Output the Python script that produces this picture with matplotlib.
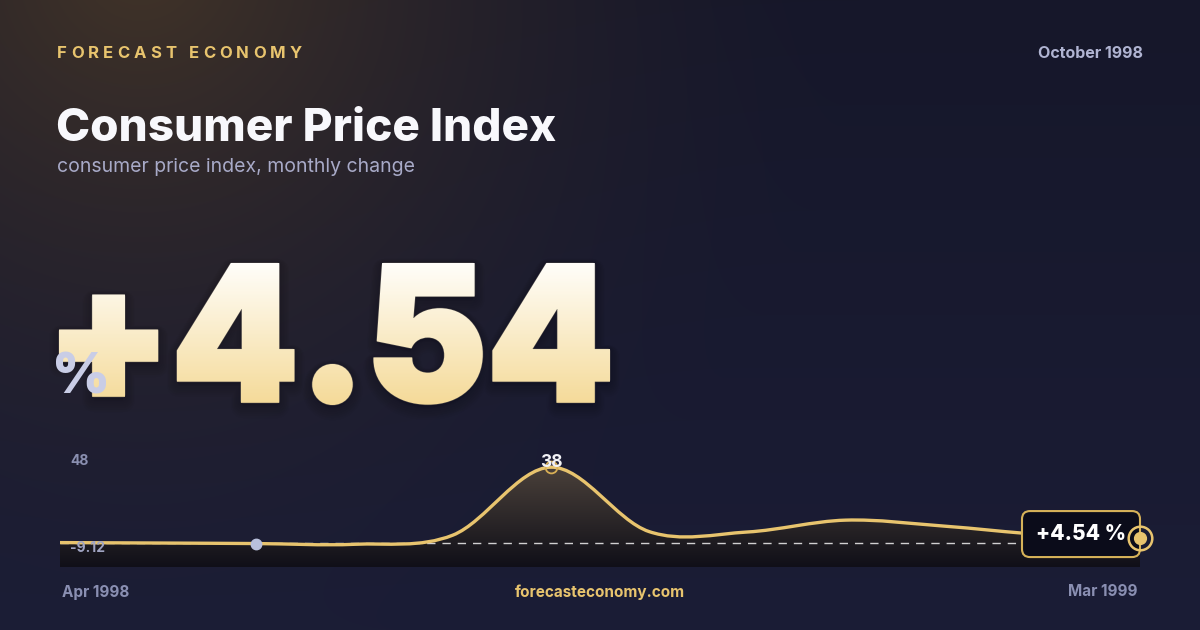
import numpy as np
import matplotlib
matplotlib.use("Agg")
from matplotlib import pyplot as plt
from matplotlib.path import Path
from matplotlib.patches import PathPatch, FancyBboxPatch, Rectangle
from matplotlib.textpath import TextPath, TextToPath
from matplotlib.font_manager import FontProperties
from matplotlib.transforms import Affine2D

# data
months = ["Apr 1998", "May 1998", "Jun 1998", "Jul 1998", "Aug 1998", "Sep 1998",
          "Oct 1998", "Nov 1998", "Dec 1998", "Jan 1999", "Feb 1999", "Mar 1999"]
cpi = [2.4, 2.2, 1.95, 1.6, 5.9, 38.0, 7.6, 7.4, 13.0, 10.2, 6.2, 4.54]
y_min, y_max = -9.12, 48
ref_value = 2.2
marked_idx = 2
headline = "+4.54"
report_month = "October 1998"

GOLD = "#e8c46e"
W, H = 1200, 630

fig = plt.figure(figsize=(12, 6.3), dpi=100)
bg = fig.add_axes([0, 0, 1, 1])
bg.axis("off")

# background: navy with warm glow top-left
yy, xx = np.mgrid[0:H, 0:W]
base = np.zeros((H, W, 3))
t = yy / H
base[..., 0] = 22 + 5 * t
base[..., 1] = 23 + 6 * t
base[..., 2] = 42 + 12 * t
d = np.hypot(xx - 140, yy + 40)
w = np.clip(1 - d / 720, 0, 1) ** 1.7
warm = np.array([66, 52, 40])
img = base * (1 - w[..., None]) + warm * w[..., None]
bg.imshow(img / 255, extent=(0, W, 0, H), origin="upper", zorder=0, aspect="auto")
bg.set_xlim(0, W)
bg.set_ylim(0, H)

def fp(weight, size):
    return FontProperties(family="Inter", weight=weight, size=size)

# header
label = "FORECAST ECONOMY"
prop = fp(700, 12)
t2p = TextToPath()
widths = [t2p.get_text_width_height_descent(c, prop, ismath=False)[0] * 100 / 72 for c in label]
gap = (245 - sum(widths)) / (len(label) - 1)
x = 57
for c, cw in zip(label, widths):
    bg.text(x, H - 53, c, fontproperties=prop, color=GOLD, va="center", ha="left")
    x += cw + gap
bg.text(1143, H - 54, report_month, fontproperties=fp(700, 11.5), color="#b0b4d2", ha="right", va="center")
bg.text(56, H - 141, "Consumer Price Index", fontproperties=fp(800, 33), color="#f8f8fc", ha="left", va="baseline")
bg.text(57, H - 167, "consumer price index, monthly change", fontproperties=fp(400, 14),
        color="#a8aac8", ha="left", va="center")

# big number: heavy glyphs with vertical gradient, drawn in thin bands
stroke = 4.0  # px
tp = TextPath((0, 0), headline, size=100, prop=FontProperties(family="Inter", weight=900))
bb = tp.get_extents()
s = stroke / 2
x0, x1, y0, y1 = 59 + s, 610 - s, H - 405 + s, H - 263 - s
tr = Affine2D().translate(-bb.x0, -bb.y0).scale((x1 - x0) / bb.width, (y1 - y0) / bb.height).translate(x0, y0)
num_path = tr.transform_path(tp)
# soft drop shadow
for k in range(2, 16, 2):
    sh = Affine2D().translate(0, -k * 0.4).transform_path(num_path)
    bg.add_patch(PathPatch(sh, facecolor="black", edgecolor="black", lw=stroke * 0.72 + k * 1.0,
                           joinstyle="round", alpha=0.022, zorder=1))
bg.add_patch(PathPatch(num_path, facecolor="none", edgecolor="#6a645c", lw=stroke * 0.72 + 0.8,
                       joinstyle="round", alpha=0.55, zorder=1.5))
top_c = np.array([255, 254, 251]) / 255
bot_c = np.array([244, 217, 150]) / 255
yb0, yb1 = int(y0 - 4), int(y1 + 4)
for yb in range(yb0, yb1):
    f = (yb1 - (yb + 0.5)) / (yb1 - yb0)
    col = top_c * (1 - f) + bot_c * f
    band = PathPatch(num_path, facecolor=col, edgecolor=col, lw=stroke * 0.72, zorder=2)
    bg.add_patch(band)
    band.set_clip_path(Rectangle((0, yb), W, 1.02, transform=bg.transData))
bg.text(52, H - 393, "%", fontproperties=fp(900, 40), color="#c9cde6", ha="left", va="baseline", zorder=3)

# footer
bg.text(62, H - 592, months[0], fontproperties=fp(700, 11), color="#8a8fb2", ha="left", va="center")
bg.text(600, H - 592, "forecasteconomy.com", fontproperties=fp(700, 11), color=GOLD, ha="center", va="center")
bg.text(1138, H - 592, months[-1], fontproperties=fp(700, 11), color="#8a8fb2", ha="right", va="center")

# chart
ax = fig.add_axes([60 / W, 63 / H, 1080 / W, 121 / H], zorder=2)
ax.patch.set_alpha(0)
ax.axis("off")

# smooth catmull-rom curve as bezier path
pts = np.column_stack([np.arange(len(cpi)), cpi]).astype(float)
ext = np.vstack([pts[0], pts, pts[-1]])
verts = [tuple(pts[0])]
codes = [Path.MOVETO]
for i in range(len(pts) - 1):
    p0, p1, p2, p3 = ext[i], ext[i + 1], ext[i + 2], ext[i + 3]
    c1 = p1 + (p2 - p0) / 6
    c2 = p2 - (p3 - p1) / 6
    verts += [tuple(c1), tuple(c2), tuple(p2)]
    codes += [Path.CURVE4] * 3
line_path = Path(verts, codes)
fill_path = Path(verts + [(pts[-1][0], y_min), (0, y_min), (0, y_min)],
                 codes + [Path.LINETO, Path.LINETO, Path.CLOSEPOLY])

fill_patch = PathPatch(fill_path, facecolor="none", edgecolor="none")
ax.add_patch(fill_patch)
fg = np.linspace(0, 1, 256)[:, None]
c_top = np.array([86, 75, 65]) / 255
c_bot = np.array([16, 15, 24]) / 255
fgrad = (c_top * (1 - fg) + c_bot * fg)[:, None, :]
fim = ax.imshow(fgrad, extent=(0, len(cpi) - 1, y_min, y_max), origin="upper", aspect="auto", zorder=1)
fim.set_clip_path(fill_patch)
ax.set_xlim(0, len(cpi) - 1)
ax.set_ylim(y_min, y_max)

ax.axhline(ref_value, color="white", lw=1, alpha=0.8, dashes=(6, 5), zorder=2)
ax.add_patch(PathPatch(line_path, facecolor="none", edgecolor=GOLD, lw=2.4, zorder=3, capstyle="round"))

ax.plot(marked_idx, cpi[marked_idx], "o", ms=7.5, color="#b9c0dc", zorder=4)
pk = int(np.argmax(cpi))
ax.plot(pk, cpi[pk], "o", ms=8.5, mfc="none", mec="#d9b055", mew=1.3, zorder=4)
ax.annotate(f"{cpi[pk]:.0f}", (pk, cpi[pk]), xytext=(0, 3.5), textcoords="offset points",
            ha="center", va="center", fontproperties=fp(700, 12.5), color="#f2f2f6", zorder=5)

ax.text(10 / 1080, 1 - 15 / 121, f"{y_max:g}", transform=ax.transAxes, fontproperties=fp(700, 10),
        color="#8a8fb0", ha="left", va="center")
ax.text(10 / 1080, 19 / 121, f"{y_min:g}", transform=ax.transAxes, fontproperties=fp(700, 10),
        color="#a0a4c2", ha="left", va="center", zorder=5)

# end marker + callout
last = len(cpi) - 1
ax.plot(last, cpi[-1], "o", ms=17, mfc="none", mec=GOLD, mew=1.8, zorder=6, clip_on=False)
ax.plot(last, cpi[-1], "o", ms=8.5, color=GOLD, zorder=6, clip_on=False)
px, py = ax.transData.transform((last, cpi[-1]))
box = FancyBboxPatch((px - 118, py - 19), 118, 46, boxstyle="round,pad=0,rounding_size=8",
                     facecolor="#0b0c1a", edgecolor="#d6b259", lw=1.5, transform=None, zorder=5, clip_on=False)
ax.add_patch(box)
ax.text(px - 59, py + 4, f"{headline} %", transform=None, fontproperties=fp(800, 15),
        color="white", ha="center", va="center", zorder=6, clip_on=False)

fig.savefig("out.png", dpi=100)
